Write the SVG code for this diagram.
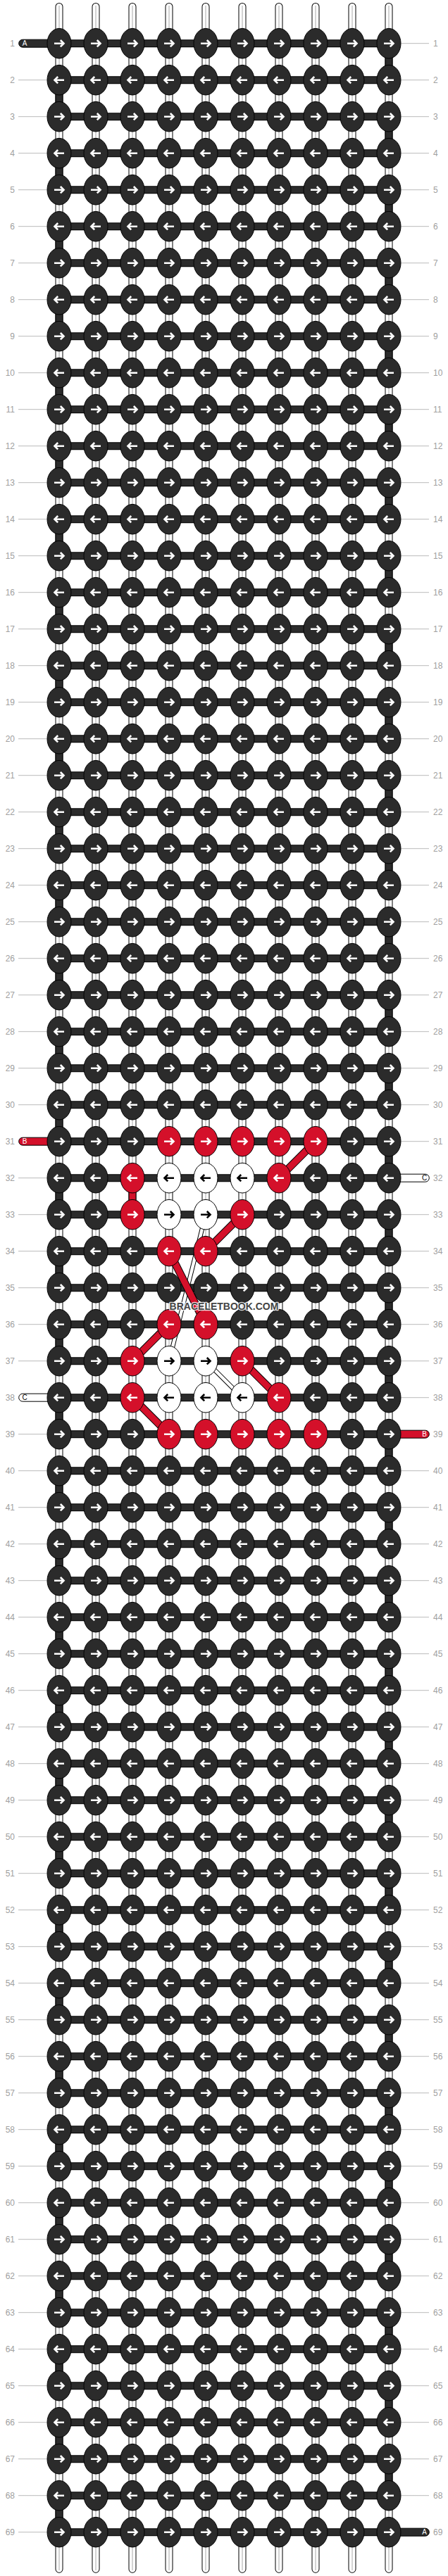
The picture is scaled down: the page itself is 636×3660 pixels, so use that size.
<svg xmlns="http://www.w3.org/2000/svg" xmlns:xlink="http://www.w3.org/1999/xlink" width="636" height="3660" viewBox="0 0 636 3660">
<style>
.kd{fill:#2b2b2b;stroke:#000;stroke-width:1}
.kr{fill:#d4102a;stroke:#000;stroke-width:1}
.kw{fill:#fff;stroke:#000;stroke-width:1}
.aw{fill:none;stroke:#fff;stroke-width:2.6}
.ab{fill:none;stroke:#000;stroke-width:2.6}
.lab{font-family:"Liberation Sans",Arial,sans-serif;font-size:12px;fill:#a0a0a0}
.ll{text-anchor:end}
.gl{fill:none;stroke:#bbb;stroke-width:1}
.tl{font-family:"Liberation Sans",Arial,sans-serif;font-size:10px;text-anchor:middle}
.wm{font-family:"Liberation Sans",Arial,sans-serif;font-size:14px;font-weight:bold;text-anchor:middle;fill:#444;stroke:#fff;stroke-opacity:.85;stroke-width:2.4;paint-order:stroke;stroke-linejoin:round}
</style>
<defs>
<g id="dR"><ellipse class="kd" rx="17" ry="21.3"/><path class="aw" d="M-7 0H6M1.8-4.7L6.5 0L1.8 4.7"/></g>
<g id="dL"><ellipse class="kd" rx="17" ry="21.3"/><path class="aw" d="M7 0H-6M-1.8-4.7L-6.5 0L-1.8 4.7"/></g>
<g id="rR"><ellipse class="kr" rx="17" ry="21.3"/><path class="aw" d="M-7 0H6M1.8-4.7L6.5 0L1.8 4.7"/></g>
<g id="rL"><ellipse class="kr" rx="17" ry="21.3"/><path class="aw" d="M7 0H-6M-1.8-4.7L-6.5 0L-1.8 4.7"/></g>
<g id="wR"><ellipse class="kw" rx="17" ry="21.3"/><path class="ab" d="M-7 0H6M1.8-4.7L6.5 0L1.8 4.7"/></g>
<g id="wL"><ellipse class="kw" rx="17" ry="21.3"/><path class="ab" d="M7 0H-6M-1.8-4.7L-6.5 0L-1.8 4.7"/></g>
<path id="vt" d="M84 9.5V3650.2M136 9.5V3650.2M188 9.5V3650.2M240 9.5V3650.2M292 9.5V3650.2M344 9.5V3650.2M396 9.5V3650.2M448 9.5V3650.2M500 9.5V3650.2M552 9.5V3650.2"/>
<path id="hb" d="M84 61.7H552M84 113.7H552M84 165.7H552M84 217.7H552M84 269.7H552M84 321.7H552M84 373.7H552M84 425.7H552M84 477.7H552M84 529.7H552M84 581.7H552M84 633.7H552M84 685.7H552M84 737.7H552M84 789.7H552M84 841.7H552M84 893.7H552M84 945.7H552M84 997.7H552M84 1049.7H552M84 1101.7H552M84 1153.7H552M84 1205.7H552M84 1257.7H552M84 1309.7H552M84 1361.7H552M84 1413.7H552M84 1465.7H552M84 1517.7H552M84 1569.7H552M84 1621.7H552M84 1673.7H552M84 1725.7H552M84 1777.7H552M84 1829.7H552M84 1881.7H552M84 1933.7H552M84 1985.7H552M84 2037.7H552M84 2089.7H552M84 2141.7H552M84 2193.7H552M84 2245.7H552M84 2297.7H552M84 2349.7H552M84 2401.7H552M84 2453.7H552M84 2505.7H552M84 2557.7H552M84 2609.7H552M84 2661.7H552M84 2713.7H552M84 2765.7H552M84 2817.7H552M84 2869.7H552M84 2921.7H552M84 2973.7H552M84 3025.7H552M84 3077.7H552M84 3129.7H552M84 3181.7H552M84 3233.7H552M84 3285.7H552M84 3337.7H552M84 3389.7H552M84 3441.7H552M84 3493.7H552M84 3545.7H552M84 3597.7H552"/>
<path id="ed" d="M552 61.7V3597.7M84 113.7V3597.7"/>
</defs>
<rect width="636" height="3660" fill="#fff"/>
<g id="labels" class="lab">
<path class="gl" d="M26 113.7H66.5M26 165.7H66.5M26 217.7H66.5M26 269.7H66.5M26 321.7H66.5M26 373.7H66.5M26 425.7H66.5M26 477.7H66.5M26 529.7H66.5M26 581.7H66.5M26 633.7H66.5M26 685.7H66.5M26 737.7H66.5M26 789.7H66.5M26 841.7H66.5M26 893.7H66.5M26 945.7H66.5M26 997.7H66.5M26 1049.7H66.5M26 1101.7H66.5M26 1153.7H66.5M26 1205.7H66.5M26 1257.7H66.5M26 1309.7H66.5M26 1361.7H66.5M26 1413.7H66.5M26 1465.7H66.5M26 1517.7H66.5M26 1569.7H66.5M26 1673.7H66.5M26 1725.7H66.5M26 1777.7H66.5M26 1829.7H66.5M26 1881.7H66.5M26 1933.7H66.5M26 2037.7H66.5M26 2089.7H66.5M26 2141.7H66.5M26 2193.7H66.5M26 2245.7H66.5M26 2297.7H66.5M26 2349.7H66.5M26 2401.7H66.5M26 2453.7H66.5M26 2505.7H66.5M26 2557.7H66.5M26 2609.7H66.5M26 2661.7H66.5M26 2713.7H66.5M26 2765.7H66.5M26 2817.7H66.5M26 2869.7H66.5M26 2921.7H66.5M26 2973.7H66.5M26 3025.7H66.5M26 3077.7H66.5M26 3129.7H66.5M26 3181.7H66.5M26 3233.7H66.5M26 3285.7H66.5M26 3337.7H66.5M26 3389.7H66.5M26 3441.7H66.5M26 3493.7H66.5M26 3545.7H66.5M26 3597.7H66.5"/>
<path class="gl" d="M569.5 61.7H609M569.5 113.7H609M569.5 165.7H609M569.5 217.7H609M569.5 269.7H609M569.5 321.7H609M569.5 373.7H609M569.5 425.7H609M569.5 477.7H609M569.5 529.7H609M569.5 581.7H609M569.5 633.7H609M569.5 685.7H609M569.5 737.7H609M569.5 789.7H609M569.5 841.7H609M569.5 893.7H609M569.5 945.7H609M569.5 997.7H609M569.5 1049.7H609M569.5 1101.7H609M569.5 1153.7H609M569.5 1205.7H609M569.5 1257.7H609M569.5 1309.7H609M569.5 1361.7H609M569.5 1413.7H609M569.5 1465.7H609M569.5 1517.7H609M569.5 1569.7H609M569.5 1621.7H609M569.5 1725.7H609M569.5 1777.7H609M569.5 1829.7H609M569.5 1881.7H609M569.5 1933.7H609M569.5 1985.7H609M569.5 2089.7H609M569.5 2141.7H609M569.5 2193.7H609M569.5 2245.7H609M569.5 2297.7H609M569.5 2349.7H609M569.5 2401.7H609M569.5 2453.7H609M569.5 2505.7H609M569.5 2557.7H609M569.5 2609.7H609M569.5 2661.7H609M569.5 2713.7H609M569.5 2765.7H609M569.5 2817.7H609M569.5 2869.7H609M569.5 2921.7H609M569.5 2973.7H609M569.5 3025.7H609M569.5 3077.7H609M569.5 3129.7H609M569.5 3181.7H609M569.5 3233.7H609M569.5 3285.7H609M569.5 3337.7H609M569.5 3389.7H609M569.5 3441.7H609M569.5 3493.7H609M569.5 3545.7H609"/>
<text class="ll" x="21" y="66">1</text><text x="615" y="66">1</text>
<text class="ll" x="21" y="118">2</text><text x="615" y="118">2</text>
<text class="ll" x="21" y="170">3</text><text x="615" y="170">3</text>
<text class="ll" x="21" y="222">4</text><text x="615" y="222">4</text>
<text class="ll" x="21" y="274">5</text><text x="615" y="274">5</text>
<text class="ll" x="21" y="326">6</text><text x="615" y="326">6</text>
<text class="ll" x="21" y="378">7</text><text x="615" y="378">7</text>
<text class="ll" x="21" y="430">8</text><text x="615" y="430">8</text>
<text class="ll" x="21" y="482">9</text><text x="615" y="482">9</text>
<text class="ll" x="21" y="534">10</text><text x="615" y="534">10</text>
<text class="ll" x="21" y="586">11</text><text x="615" y="586">11</text>
<text class="ll" x="21" y="638">12</text><text x="615" y="638">12</text>
<text class="ll" x="21" y="690">13</text><text x="615" y="690">13</text>
<text class="ll" x="21" y="742">14</text><text x="615" y="742">14</text>
<text class="ll" x="21" y="794">15</text><text x="615" y="794">15</text>
<text class="ll" x="21" y="846">16</text><text x="615" y="846">16</text>
<text class="ll" x="21" y="898">17</text><text x="615" y="898">17</text>
<text class="ll" x="21" y="950">18</text><text x="615" y="950">18</text>
<text class="ll" x="21" y="1002">19</text><text x="615" y="1002">19</text>
<text class="ll" x="21" y="1054">20</text><text x="615" y="1054">20</text>
<text class="ll" x="21" y="1106">21</text><text x="615" y="1106">21</text>
<text class="ll" x="21" y="1158">22</text><text x="615" y="1158">22</text>
<text class="ll" x="21" y="1210">23</text><text x="615" y="1210">23</text>
<text class="ll" x="21" y="1262">24</text><text x="615" y="1262">24</text>
<text class="ll" x="21" y="1314">25</text><text x="615" y="1314">25</text>
<text class="ll" x="21" y="1366">26</text><text x="615" y="1366">26</text>
<text class="ll" x="21" y="1418">27</text><text x="615" y="1418">27</text>
<text class="ll" x="21" y="1470">28</text><text x="615" y="1470">28</text>
<text class="ll" x="21" y="1522">29</text><text x="615" y="1522">29</text>
<text class="ll" x="21" y="1574">30</text><text x="615" y="1574">30</text>
<text class="ll" x="21" y="1626">31</text><text x="615" y="1626">31</text>
<text class="ll" x="21" y="1678">32</text><text x="615" y="1678">32</text>
<text class="ll" x="21" y="1730">33</text><text x="615" y="1730">33</text>
<text class="ll" x="21" y="1782">34</text><text x="615" y="1782">34</text>
<text class="ll" x="21" y="1834">35</text><text x="615" y="1834">35</text>
<text class="ll" x="21" y="1886">36</text><text x="615" y="1886">36</text>
<text class="ll" x="21" y="1938">37</text><text x="615" y="1938">37</text>
<text class="ll" x="21" y="1990">38</text><text x="615" y="1990">38</text>
<text class="ll" x="21" y="2042">39</text><text x="615" y="2042">39</text>
<text class="ll" x="21" y="2094">40</text><text x="615" y="2094">40</text>
<text class="ll" x="21" y="2146">41</text><text x="615" y="2146">41</text>
<text class="ll" x="21" y="2198">42</text><text x="615" y="2198">42</text>
<text class="ll" x="21" y="2250">43</text><text x="615" y="2250">43</text>
<text class="ll" x="21" y="2302">44</text><text x="615" y="2302">44</text>
<text class="ll" x="21" y="2354">45</text><text x="615" y="2354">45</text>
<text class="ll" x="21" y="2406">46</text><text x="615" y="2406">46</text>
<text class="ll" x="21" y="2458">47</text><text x="615" y="2458">47</text>
<text class="ll" x="21" y="2510">48</text><text x="615" y="2510">48</text>
<text class="ll" x="21" y="2562">49</text><text x="615" y="2562">49</text>
<text class="ll" x="21" y="2614">50</text><text x="615" y="2614">50</text>
<text class="ll" x="21" y="2666">51</text><text x="615" y="2666">51</text>
<text class="ll" x="21" y="2718">52</text><text x="615" y="2718">52</text>
<text class="ll" x="21" y="2770">53</text><text x="615" y="2770">53</text>
<text class="ll" x="21" y="2822">54</text><text x="615" y="2822">54</text>
<text class="ll" x="21" y="2874">55</text><text x="615" y="2874">55</text>
<text class="ll" x="21" y="2926">56</text><text x="615" y="2926">56</text>
<text class="ll" x="21" y="2978">57</text><text x="615" y="2978">57</text>
<text class="ll" x="21" y="3030">58</text><text x="615" y="3030">58</text>
<text class="ll" x="21" y="3082">59</text><text x="615" y="3082">59</text>
<text class="ll" x="21" y="3134">60</text><text x="615" y="3134">60</text>
<text class="ll" x="21" y="3186">61</text><text x="615" y="3186">61</text>
<text class="ll" x="21" y="3238">62</text><text x="615" y="3238">62</text>
<text class="ll" x="21" y="3290">63</text><text x="615" y="3290">63</text>
<text class="ll" x="21" y="3342">64</text><text x="615" y="3342">64</text>
<text class="ll" x="21" y="3394">65</text><text x="615" y="3394">65</text>
<text class="ll" x="21" y="3446">66</text><text x="615" y="3446">66</text>
<text class="ll" x="21" y="3498">67</text><text x="615" y="3498">67</text>
<text class="ll" x="21" y="3550">68</text><text x="615" y="3550">68</text>
<text class="ll" x="21" y="3602">69</text><text x="615" y="3602">69</text>
</g>
<g id="connectors">
<g id="vertical-threads" fill="none">
<use href="#vt" stroke="#000" stroke-width="11" stroke-linecap="round"/>
<use href="#vt" stroke="#fff" stroke-width="9" stroke-linecap="round"/>
<path d="M84 8V3652M136 8V3652M188 8V3652M240 8V3652M292 8V3652M344 8V3652M396 8V3652M448 8V3652M500 8V3652M552 8V3652" stroke="#a8a8a8" stroke-width="1"/>
</g>
<g id="edge-turns" fill="none">
<use href="#ed" stroke="#000" stroke-width="11" stroke-dasharray="52 52"/>
<use href="#ed" stroke="#2b2b2b" stroke-width="9" stroke-dasharray="52 52"/>
</g>
<g id="horizontal-threads" fill="none">
<use href="#hb" stroke="#000" stroke-width="11"/>
<use href="#hb" stroke="#2b2b2b" stroke-width="9"/>
</g>
<g id="thread-ends">
<g id="end-A-left"><rect x="26.7" y="56.2" width="50" height="11" rx="5.5" class="kd"/><text class="tl" x="35" y="65.3" fill="#fff">A</text></g>
<g id="end-B-left"><rect x="26.7" y="1616.2" width="50" height="11" rx="5.5" class="kr"/><text class="tl" x="35" y="1625.3" fill="#fff">B</text></g>
<g id="end-C-left"><rect x="26.7" y="1980.2" width="50" height="11" rx="5.5" class="kw"/><text class="tl" x="35" y="1989.3" fill="#000">C</text></g>
<g id="end-C-right"><rect x="559.3" y="1668.2" width="50" height="11" rx="5.5" class="kw"/><text class="tl" x="602.5" y="1677.3" fill="#000">C</text></g>
<g id="end-B-right"><rect x="559.3" y="2032.2" width="50" height="11" rx="5.5" class="kr"/><text class="tl" x="602.5" y="2041.3" fill="#fff">B</text></g>
<g id="end-A-right"><rect x="559.3" y="3592.2" width="50" height="11" rx="5.5" class="kd"/><text class="tl" x="602.5" y="3601.3" fill="#fff">A</text></g>
</g>
<g id="white-carries" fill="none">
<path d="M292 1725.7L240 1933.7M292 1933.7L344 1985.7" stroke="#000" stroke-width="6.5"/>
<path d="M292 1725.7L240 1933.7M292 1933.7L344 1985.7" stroke="#fff" stroke-width="4.5"/>
</g>
<g id="red-carries" fill="none">
<path d="M448 1621.7L396 1673.7M344 1725.7L292 1777.7M188 1673.7V1725.7M240 1777.7L292 1881.7M240 1881.7L188 1933.7M344 1933.7L396 1985.7M188 1985.7L240 2037.7" stroke="#000" stroke-width="11"/>
<path d="M448 1621.7L396 1673.7M344 1725.7L292 1777.7M188 1673.7V1725.7M240 1777.7L292 1881.7M240 1881.7L188 1933.7M344 1933.7L396 1985.7M188 1985.7L240 2037.7" stroke="#d4102a" stroke-width="9"/>
</g>
</g>
<g id="knots">
<g id="r1" transform="translate(0 61.7)"><g id="k1-1"><use href="#dR" x="84"/></g><g id="k1-2"><use href="#dR" x="136"/></g><g id="k1-3"><use href="#dR" x="188"/></g><g id="k1-4"><use href="#dR" x="240"/></g><g id="k1-5"><use href="#dR" x="292"/></g><g id="k1-6"><use href="#dR" x="344"/></g><g id="k1-7"><use href="#dR" x="396"/></g><g id="k1-8"><use href="#dR" x="448"/></g><g id="k1-9"><use href="#dR" x="500"/></g><g id="k1-10"><use href="#dR" x="552"/></g></g>
<g id="r2" transform="translate(0 113.7)"><g id="k2-1"><use href="#dL" x="84"/></g><g id="k2-2"><use href="#dL" x="136"/></g><g id="k2-3"><use href="#dL" x="188"/></g><g id="k2-4"><use href="#dL" x="240"/></g><g id="k2-5"><use href="#dL" x="292"/></g><g id="k2-6"><use href="#dL" x="344"/></g><g id="k2-7"><use href="#dL" x="396"/></g><g id="k2-8"><use href="#dL" x="448"/></g><g id="k2-9"><use href="#dL" x="500"/></g><g id="k2-10"><use href="#dL" x="552"/></g></g>
<g id="r3" transform="translate(0 165.7)"><g id="k3-1"><use href="#dR" x="84"/></g><g id="k3-2"><use href="#dR" x="136"/></g><g id="k3-3"><use href="#dR" x="188"/></g><g id="k3-4"><use href="#dR" x="240"/></g><g id="k3-5"><use href="#dR" x="292"/></g><g id="k3-6"><use href="#dR" x="344"/></g><g id="k3-7"><use href="#dR" x="396"/></g><g id="k3-8"><use href="#dR" x="448"/></g><g id="k3-9"><use href="#dR" x="500"/></g><g id="k3-10"><use href="#dR" x="552"/></g></g>
<g id="r4" transform="translate(0 217.7)"><g id="k4-1"><use href="#dL" x="84"/></g><g id="k4-2"><use href="#dL" x="136"/></g><g id="k4-3"><use href="#dL" x="188"/></g><g id="k4-4"><use href="#dL" x="240"/></g><g id="k4-5"><use href="#dL" x="292"/></g><g id="k4-6"><use href="#dL" x="344"/></g><g id="k4-7"><use href="#dL" x="396"/></g><g id="k4-8"><use href="#dL" x="448"/></g><g id="k4-9"><use href="#dL" x="500"/></g><g id="k4-10"><use href="#dL" x="552"/></g></g>
<g id="r5" transform="translate(0 269.7)"><g id="k5-1"><use href="#dR" x="84"/></g><g id="k5-2"><use href="#dR" x="136"/></g><g id="k5-3"><use href="#dR" x="188"/></g><g id="k5-4"><use href="#dR" x="240"/></g><g id="k5-5"><use href="#dR" x="292"/></g><g id="k5-6"><use href="#dR" x="344"/></g><g id="k5-7"><use href="#dR" x="396"/></g><g id="k5-8"><use href="#dR" x="448"/></g><g id="k5-9"><use href="#dR" x="500"/></g><g id="k5-10"><use href="#dR" x="552"/></g></g>
<g id="r6" transform="translate(0 321.7)"><g id="k6-1"><use href="#dL" x="84"/></g><g id="k6-2"><use href="#dL" x="136"/></g><g id="k6-3"><use href="#dL" x="188"/></g><g id="k6-4"><use href="#dL" x="240"/></g><g id="k6-5"><use href="#dL" x="292"/></g><g id="k6-6"><use href="#dL" x="344"/></g><g id="k6-7"><use href="#dL" x="396"/></g><g id="k6-8"><use href="#dL" x="448"/></g><g id="k6-9"><use href="#dL" x="500"/></g><g id="k6-10"><use href="#dL" x="552"/></g></g>
<g id="r7" transform="translate(0 373.7)"><g id="k7-1"><use href="#dR" x="84"/></g><g id="k7-2"><use href="#dR" x="136"/></g><g id="k7-3"><use href="#dR" x="188"/></g><g id="k7-4"><use href="#dR" x="240"/></g><g id="k7-5"><use href="#dR" x="292"/></g><g id="k7-6"><use href="#dR" x="344"/></g><g id="k7-7"><use href="#dR" x="396"/></g><g id="k7-8"><use href="#dR" x="448"/></g><g id="k7-9"><use href="#dR" x="500"/></g><g id="k7-10"><use href="#dR" x="552"/></g></g>
<g id="r8" transform="translate(0 425.7)"><g id="k8-1"><use href="#dL" x="84"/></g><g id="k8-2"><use href="#dL" x="136"/></g><g id="k8-3"><use href="#dL" x="188"/></g><g id="k8-4"><use href="#dL" x="240"/></g><g id="k8-5"><use href="#dL" x="292"/></g><g id="k8-6"><use href="#dL" x="344"/></g><g id="k8-7"><use href="#dL" x="396"/></g><g id="k8-8"><use href="#dL" x="448"/></g><g id="k8-9"><use href="#dL" x="500"/></g><g id="k8-10"><use href="#dL" x="552"/></g></g>
<g id="r9" transform="translate(0 477.7)"><g id="k9-1"><use href="#dR" x="84"/></g><g id="k9-2"><use href="#dR" x="136"/></g><g id="k9-3"><use href="#dR" x="188"/></g><g id="k9-4"><use href="#dR" x="240"/></g><g id="k9-5"><use href="#dR" x="292"/></g><g id="k9-6"><use href="#dR" x="344"/></g><g id="k9-7"><use href="#dR" x="396"/></g><g id="k9-8"><use href="#dR" x="448"/></g><g id="k9-9"><use href="#dR" x="500"/></g><g id="k9-10"><use href="#dR" x="552"/></g></g>
<g id="r10" transform="translate(0 529.7)"><g id="k10-1"><use href="#dL" x="84"/></g><g id="k10-2"><use href="#dL" x="136"/></g><g id="k10-3"><use href="#dL" x="188"/></g><g id="k10-4"><use href="#dL" x="240"/></g><g id="k10-5"><use href="#dL" x="292"/></g><g id="k10-6"><use href="#dL" x="344"/></g><g id="k10-7"><use href="#dL" x="396"/></g><g id="k10-8"><use href="#dL" x="448"/></g><g id="k10-9"><use href="#dL" x="500"/></g><g id="k10-10"><use href="#dL" x="552"/></g></g>
<g id="r11" transform="translate(0 581.7)"><g id="k11-1"><use href="#dR" x="84"/></g><g id="k11-2"><use href="#dR" x="136"/></g><g id="k11-3"><use href="#dR" x="188"/></g><g id="k11-4"><use href="#dR" x="240"/></g><g id="k11-5"><use href="#dR" x="292"/></g><g id="k11-6"><use href="#dR" x="344"/></g><g id="k11-7"><use href="#dR" x="396"/></g><g id="k11-8"><use href="#dR" x="448"/></g><g id="k11-9"><use href="#dR" x="500"/></g><g id="k11-10"><use href="#dR" x="552"/></g></g>
<g id="r12" transform="translate(0 633.7)"><g id="k12-1"><use href="#dL" x="84"/></g><g id="k12-2"><use href="#dL" x="136"/></g><g id="k12-3"><use href="#dL" x="188"/></g><g id="k12-4"><use href="#dL" x="240"/></g><g id="k12-5"><use href="#dL" x="292"/></g><g id="k12-6"><use href="#dL" x="344"/></g><g id="k12-7"><use href="#dL" x="396"/></g><g id="k12-8"><use href="#dL" x="448"/></g><g id="k12-9"><use href="#dL" x="500"/></g><g id="k12-10"><use href="#dL" x="552"/></g></g>
<g id="r13" transform="translate(0 685.7)"><g id="k13-1"><use href="#dR" x="84"/></g><g id="k13-2"><use href="#dR" x="136"/></g><g id="k13-3"><use href="#dR" x="188"/></g><g id="k13-4"><use href="#dR" x="240"/></g><g id="k13-5"><use href="#dR" x="292"/></g><g id="k13-6"><use href="#dR" x="344"/></g><g id="k13-7"><use href="#dR" x="396"/></g><g id="k13-8"><use href="#dR" x="448"/></g><g id="k13-9"><use href="#dR" x="500"/></g><g id="k13-10"><use href="#dR" x="552"/></g></g>
<g id="r14" transform="translate(0 737.7)"><g id="k14-1"><use href="#dL" x="84"/></g><g id="k14-2"><use href="#dL" x="136"/></g><g id="k14-3"><use href="#dL" x="188"/></g><g id="k14-4"><use href="#dL" x="240"/></g><g id="k14-5"><use href="#dL" x="292"/></g><g id="k14-6"><use href="#dL" x="344"/></g><g id="k14-7"><use href="#dL" x="396"/></g><g id="k14-8"><use href="#dL" x="448"/></g><g id="k14-9"><use href="#dL" x="500"/></g><g id="k14-10"><use href="#dL" x="552"/></g></g>
<g id="r15" transform="translate(0 789.7)"><g id="k15-1"><use href="#dR" x="84"/></g><g id="k15-2"><use href="#dR" x="136"/></g><g id="k15-3"><use href="#dR" x="188"/></g><g id="k15-4"><use href="#dR" x="240"/></g><g id="k15-5"><use href="#dR" x="292"/></g><g id="k15-6"><use href="#dR" x="344"/></g><g id="k15-7"><use href="#dR" x="396"/></g><g id="k15-8"><use href="#dR" x="448"/></g><g id="k15-9"><use href="#dR" x="500"/></g><g id="k15-10"><use href="#dR" x="552"/></g></g>
<g id="r16" transform="translate(0 841.7)"><g id="k16-1"><use href="#dL" x="84"/></g><g id="k16-2"><use href="#dL" x="136"/></g><g id="k16-3"><use href="#dL" x="188"/></g><g id="k16-4"><use href="#dL" x="240"/></g><g id="k16-5"><use href="#dL" x="292"/></g><g id="k16-6"><use href="#dL" x="344"/></g><g id="k16-7"><use href="#dL" x="396"/></g><g id="k16-8"><use href="#dL" x="448"/></g><g id="k16-9"><use href="#dL" x="500"/></g><g id="k16-10"><use href="#dL" x="552"/></g></g>
<g id="r17" transform="translate(0 893.7)"><g id="k17-1"><use href="#dR" x="84"/></g><g id="k17-2"><use href="#dR" x="136"/></g><g id="k17-3"><use href="#dR" x="188"/></g><g id="k17-4"><use href="#dR" x="240"/></g><g id="k17-5"><use href="#dR" x="292"/></g><g id="k17-6"><use href="#dR" x="344"/></g><g id="k17-7"><use href="#dR" x="396"/></g><g id="k17-8"><use href="#dR" x="448"/></g><g id="k17-9"><use href="#dR" x="500"/></g><g id="k17-10"><use href="#dR" x="552"/></g></g>
<g id="r18" transform="translate(0 945.7)"><g id="k18-1"><use href="#dL" x="84"/></g><g id="k18-2"><use href="#dL" x="136"/></g><g id="k18-3"><use href="#dL" x="188"/></g><g id="k18-4"><use href="#dL" x="240"/></g><g id="k18-5"><use href="#dL" x="292"/></g><g id="k18-6"><use href="#dL" x="344"/></g><g id="k18-7"><use href="#dL" x="396"/></g><g id="k18-8"><use href="#dL" x="448"/></g><g id="k18-9"><use href="#dL" x="500"/></g><g id="k18-10"><use href="#dL" x="552"/></g></g>
<g id="r19" transform="translate(0 997.7)"><g id="k19-1"><use href="#dR" x="84"/></g><g id="k19-2"><use href="#dR" x="136"/></g><g id="k19-3"><use href="#dR" x="188"/></g><g id="k19-4"><use href="#dR" x="240"/></g><g id="k19-5"><use href="#dR" x="292"/></g><g id="k19-6"><use href="#dR" x="344"/></g><g id="k19-7"><use href="#dR" x="396"/></g><g id="k19-8"><use href="#dR" x="448"/></g><g id="k19-9"><use href="#dR" x="500"/></g><g id="k19-10"><use href="#dR" x="552"/></g></g>
<g id="r20" transform="translate(0 1049.7)"><g id="k20-1"><use href="#dL" x="84"/></g><g id="k20-2"><use href="#dL" x="136"/></g><g id="k20-3"><use href="#dL" x="188"/></g><g id="k20-4"><use href="#dL" x="240"/></g><g id="k20-5"><use href="#dL" x="292"/></g><g id="k20-6"><use href="#dL" x="344"/></g><g id="k20-7"><use href="#dL" x="396"/></g><g id="k20-8"><use href="#dL" x="448"/></g><g id="k20-9"><use href="#dL" x="500"/></g><g id="k20-10"><use href="#dL" x="552"/></g></g>
<g id="r21" transform="translate(0 1101.7)"><g id="k21-1"><use href="#dR" x="84"/></g><g id="k21-2"><use href="#dR" x="136"/></g><g id="k21-3"><use href="#dR" x="188"/></g><g id="k21-4"><use href="#dR" x="240"/></g><g id="k21-5"><use href="#dR" x="292"/></g><g id="k21-6"><use href="#dR" x="344"/></g><g id="k21-7"><use href="#dR" x="396"/></g><g id="k21-8"><use href="#dR" x="448"/></g><g id="k21-9"><use href="#dR" x="500"/></g><g id="k21-10"><use href="#dR" x="552"/></g></g>
<g id="r22" transform="translate(0 1153.7)"><g id="k22-1"><use href="#dL" x="84"/></g><g id="k22-2"><use href="#dL" x="136"/></g><g id="k22-3"><use href="#dL" x="188"/></g><g id="k22-4"><use href="#dL" x="240"/></g><g id="k22-5"><use href="#dL" x="292"/></g><g id="k22-6"><use href="#dL" x="344"/></g><g id="k22-7"><use href="#dL" x="396"/></g><g id="k22-8"><use href="#dL" x="448"/></g><g id="k22-9"><use href="#dL" x="500"/></g><g id="k22-10"><use href="#dL" x="552"/></g></g>
<g id="r23" transform="translate(0 1205.7)"><g id="k23-1"><use href="#dR" x="84"/></g><g id="k23-2"><use href="#dR" x="136"/></g><g id="k23-3"><use href="#dR" x="188"/></g><g id="k23-4"><use href="#dR" x="240"/></g><g id="k23-5"><use href="#dR" x="292"/></g><g id="k23-6"><use href="#dR" x="344"/></g><g id="k23-7"><use href="#dR" x="396"/></g><g id="k23-8"><use href="#dR" x="448"/></g><g id="k23-9"><use href="#dR" x="500"/></g><g id="k23-10"><use href="#dR" x="552"/></g></g>
<g id="r24" transform="translate(0 1257.7)"><g id="k24-1"><use href="#dL" x="84"/></g><g id="k24-2"><use href="#dL" x="136"/></g><g id="k24-3"><use href="#dL" x="188"/></g><g id="k24-4"><use href="#dL" x="240"/></g><g id="k24-5"><use href="#dL" x="292"/></g><g id="k24-6"><use href="#dL" x="344"/></g><g id="k24-7"><use href="#dL" x="396"/></g><g id="k24-8"><use href="#dL" x="448"/></g><g id="k24-9"><use href="#dL" x="500"/></g><g id="k24-10"><use href="#dL" x="552"/></g></g>
<g id="r25" transform="translate(0 1309.7)"><g id="k25-1"><use href="#dR" x="84"/></g><g id="k25-2"><use href="#dR" x="136"/></g><g id="k25-3"><use href="#dR" x="188"/></g><g id="k25-4"><use href="#dR" x="240"/></g><g id="k25-5"><use href="#dR" x="292"/></g><g id="k25-6"><use href="#dR" x="344"/></g><g id="k25-7"><use href="#dR" x="396"/></g><g id="k25-8"><use href="#dR" x="448"/></g><g id="k25-9"><use href="#dR" x="500"/></g><g id="k25-10"><use href="#dR" x="552"/></g></g>
<g id="r26" transform="translate(0 1361.7)"><g id="k26-1"><use href="#dL" x="84"/></g><g id="k26-2"><use href="#dL" x="136"/></g><g id="k26-3"><use href="#dL" x="188"/></g><g id="k26-4"><use href="#dL" x="240"/></g><g id="k26-5"><use href="#dL" x="292"/></g><g id="k26-6"><use href="#dL" x="344"/></g><g id="k26-7"><use href="#dL" x="396"/></g><g id="k26-8"><use href="#dL" x="448"/></g><g id="k26-9"><use href="#dL" x="500"/></g><g id="k26-10"><use href="#dL" x="552"/></g></g>
<g id="r27" transform="translate(0 1413.7)"><g id="k27-1"><use href="#dR" x="84"/></g><g id="k27-2"><use href="#dR" x="136"/></g><g id="k27-3"><use href="#dR" x="188"/></g><g id="k27-4"><use href="#dR" x="240"/></g><g id="k27-5"><use href="#dR" x="292"/></g><g id="k27-6"><use href="#dR" x="344"/></g><g id="k27-7"><use href="#dR" x="396"/></g><g id="k27-8"><use href="#dR" x="448"/></g><g id="k27-9"><use href="#dR" x="500"/></g><g id="k27-10"><use href="#dR" x="552"/></g></g>
<g id="r28" transform="translate(0 1465.7)"><g id="k28-1"><use href="#dL" x="84"/></g><g id="k28-2"><use href="#dL" x="136"/></g><g id="k28-3"><use href="#dL" x="188"/></g><g id="k28-4"><use href="#dL" x="240"/></g><g id="k28-5"><use href="#dL" x="292"/></g><g id="k28-6"><use href="#dL" x="344"/></g><g id="k28-7"><use href="#dL" x="396"/></g><g id="k28-8"><use href="#dL" x="448"/></g><g id="k28-9"><use href="#dL" x="500"/></g><g id="k28-10"><use href="#dL" x="552"/></g></g>
<g id="r29" transform="translate(0 1517.7)"><g id="k29-1"><use href="#dR" x="84"/></g><g id="k29-2"><use href="#dR" x="136"/></g><g id="k29-3"><use href="#dR" x="188"/></g><g id="k29-4"><use href="#dR" x="240"/></g><g id="k29-5"><use href="#dR" x="292"/></g><g id="k29-6"><use href="#dR" x="344"/></g><g id="k29-7"><use href="#dR" x="396"/></g><g id="k29-8"><use href="#dR" x="448"/></g><g id="k29-9"><use href="#dR" x="500"/></g><g id="k29-10"><use href="#dR" x="552"/></g></g>
<g id="r30" transform="translate(0 1569.7)"><g id="k30-1"><use href="#dL" x="84"/></g><g id="k30-2"><use href="#dL" x="136"/></g><g id="k30-3"><use href="#dL" x="188"/></g><g id="k30-4"><use href="#dL" x="240"/></g><g id="k30-5"><use href="#dL" x="292"/></g><g id="k30-6"><use href="#dL" x="344"/></g><g id="k30-7"><use href="#dL" x="396"/></g><g id="k30-8"><use href="#dL" x="448"/></g><g id="k30-9"><use href="#dL" x="500"/></g><g id="k30-10"><use href="#dL" x="552"/></g></g>
<g id="r31" transform="translate(0 1621.7)"><g id="k31-1"><use href="#dR" x="84"/></g><g id="k31-2"><use href="#dR" x="136"/></g><g id="k31-3"><use href="#dR" x="188"/></g><g id="k31-4"><use href="#rR" x="240"/></g><g id="k31-5"><use href="#rR" x="292"/></g><g id="k31-6"><use href="#rR" x="344"/></g><g id="k31-7"><use href="#rR" x="396"/></g><g id="k31-8"><use href="#rR" x="448"/></g><g id="k31-9"><use href="#dR" x="500"/></g><g id="k31-10"><use href="#dR" x="552"/></g></g>
<g id="r32" transform="translate(0 1673.7)"><g id="k32-1"><use href="#dL" x="84"/></g><g id="k32-2"><use href="#dL" x="136"/></g><g id="k32-3"><use href="#rL" x="188"/></g><g id="k32-4"><use href="#wL" x="240"/></g><g id="k32-5"><use href="#wL" x="292"/></g><g id="k32-6"><use href="#wL" x="344"/></g><g id="k32-7"><use href="#rL" x="396"/></g><g id="k32-8"><use href="#dL" x="448"/></g><g id="k32-9"><use href="#dL" x="500"/></g><g id="k32-10"><use href="#dL" x="552"/></g></g>
<g id="r33" transform="translate(0 1725.7)"><g id="k33-1"><use href="#dR" x="84"/></g><g id="k33-2"><use href="#dR" x="136"/></g><g id="k33-3"><use href="#rR" x="188"/></g><g id="k33-4"><use href="#wR" x="240"/></g><g id="k33-5"><use href="#wR" x="292"/></g><g id="k33-6"><use href="#rR" x="344"/></g><g id="k33-7"><use href="#dR" x="396"/></g><g id="k33-8"><use href="#dR" x="448"/></g><g id="k33-9"><use href="#dR" x="500"/></g><g id="k33-10"><use href="#dR" x="552"/></g></g>
<g id="r34" transform="translate(0 1777.7)"><g id="k34-1"><use href="#dL" x="84"/></g><g id="k34-2"><use href="#dL" x="136"/></g><g id="k34-3"><use href="#dL" x="188"/></g><g id="k34-4"><use href="#rL" x="240"/></g><g id="k34-5"><use href="#rL" x="292"/></g><g id="k34-6"><use href="#dL" x="344"/></g><g id="k34-7"><use href="#dL" x="396"/></g><g id="k34-8"><use href="#dL" x="448"/></g><g id="k34-9"><use href="#dL" x="500"/></g><g id="k34-10"><use href="#dL" x="552"/></g></g>
<g id="r35" transform="translate(0 1829.7)"><g id="k35-1"><use href="#dR" x="84"/></g><g id="k35-2"><use href="#dR" x="136"/></g><g id="k35-3"><use href="#dR" x="188"/></g><g id="k35-4"><use href="#dR" x="240"/></g><g id="k35-5"><use href="#dR" x="292"/></g><g id="k35-6"><use href="#dR" x="344"/></g><g id="k35-7"><use href="#dR" x="396"/></g><g id="k35-8"><use href="#dR" x="448"/></g><g id="k35-9"><use href="#dR" x="500"/></g><g id="k35-10"><use href="#dR" x="552"/></g></g>
<g id="r36" transform="translate(0 1881.7)"><g id="k36-1"><use href="#dL" x="84"/></g><g id="k36-2"><use href="#dL" x="136"/></g><g id="k36-3"><use href="#dL" x="188"/></g><g id="k36-4"><use href="#rL" x="240"/></g><g id="k36-5"><use href="#rL" x="292"/></g><g id="k36-6"><use href="#dL" x="344"/></g><g id="k36-7"><use href="#dL" x="396"/></g><g id="k36-8"><use href="#dL" x="448"/></g><g id="k36-9"><use href="#dL" x="500"/></g><g id="k36-10"><use href="#dL" x="552"/></g></g>
<g id="r37" transform="translate(0 1933.7)"><g id="k37-1"><use href="#dR" x="84"/></g><g id="k37-2"><use href="#dR" x="136"/></g><g id="k37-3"><use href="#rR" x="188"/></g><g id="k37-4"><use href="#wR" x="240"/></g><g id="k37-5"><use href="#wR" x="292"/></g><g id="k37-6"><use href="#rR" x="344"/></g><g id="k37-7"><use href="#dR" x="396"/></g><g id="k37-8"><use href="#dR" x="448"/></g><g id="k37-9"><use href="#dR" x="500"/></g><g id="k37-10"><use href="#dR" x="552"/></g></g>
<g id="r38" transform="translate(0 1985.7)"><g id="k38-1"><use href="#dL" x="84"/></g><g id="k38-2"><use href="#dL" x="136"/></g><g id="k38-3"><use href="#rL" x="188"/></g><g id="k38-4"><use href="#wL" x="240"/></g><g id="k38-5"><use href="#wL" x="292"/></g><g id="k38-6"><use href="#wL" x="344"/></g><g id="k38-7"><use href="#rL" x="396"/></g><g id="k38-8"><use href="#dL" x="448"/></g><g id="k38-9"><use href="#dL" x="500"/></g><g id="k38-10"><use href="#dL" x="552"/></g></g>
<g id="r39" transform="translate(0 2037.7)"><g id="k39-1"><use href="#dR" x="84"/></g><g id="k39-2"><use href="#dR" x="136"/></g><g id="k39-3"><use href="#dR" x="188"/></g><g id="k39-4"><use href="#rR" x="240"/></g><g id="k39-5"><use href="#rR" x="292"/></g><g id="k39-6"><use href="#rR" x="344"/></g><g id="k39-7"><use href="#rR" x="396"/></g><g id="k39-8"><use href="#rR" x="448"/></g><g id="k39-9"><use href="#dR" x="500"/></g><g id="k39-10"><use href="#dR" x="552"/></g></g>
<g id="r40" transform="translate(0 2089.7)"><g id="k40-1"><use href="#dL" x="84"/></g><g id="k40-2"><use href="#dL" x="136"/></g><g id="k40-3"><use href="#dL" x="188"/></g><g id="k40-4"><use href="#dL" x="240"/></g><g id="k40-5"><use href="#dL" x="292"/></g><g id="k40-6"><use href="#dL" x="344"/></g><g id="k40-7"><use href="#dL" x="396"/></g><g id="k40-8"><use href="#dL" x="448"/></g><g id="k40-9"><use href="#dL" x="500"/></g><g id="k40-10"><use href="#dL" x="552"/></g></g>
<g id="r41" transform="translate(0 2141.7)"><g id="k41-1"><use href="#dR" x="84"/></g><g id="k41-2"><use href="#dR" x="136"/></g><g id="k41-3"><use href="#dR" x="188"/></g><g id="k41-4"><use href="#dR" x="240"/></g><g id="k41-5"><use href="#dR" x="292"/></g><g id="k41-6"><use href="#dR" x="344"/></g><g id="k41-7"><use href="#dR" x="396"/></g><g id="k41-8"><use href="#dR" x="448"/></g><g id="k41-9"><use href="#dR" x="500"/></g><g id="k41-10"><use href="#dR" x="552"/></g></g>
<g id="r42" transform="translate(0 2193.7)"><g id="k42-1"><use href="#dL" x="84"/></g><g id="k42-2"><use href="#dL" x="136"/></g><g id="k42-3"><use href="#dL" x="188"/></g><g id="k42-4"><use href="#dL" x="240"/></g><g id="k42-5"><use href="#dL" x="292"/></g><g id="k42-6"><use href="#dL" x="344"/></g><g id="k42-7"><use href="#dL" x="396"/></g><g id="k42-8"><use href="#dL" x="448"/></g><g id="k42-9"><use href="#dL" x="500"/></g><g id="k42-10"><use href="#dL" x="552"/></g></g>
<g id="r43" transform="translate(0 2245.7)"><g id="k43-1"><use href="#dR" x="84"/></g><g id="k43-2"><use href="#dR" x="136"/></g><g id="k43-3"><use href="#dR" x="188"/></g><g id="k43-4"><use href="#dR" x="240"/></g><g id="k43-5"><use href="#dR" x="292"/></g><g id="k43-6"><use href="#dR" x="344"/></g><g id="k43-7"><use href="#dR" x="396"/></g><g id="k43-8"><use href="#dR" x="448"/></g><g id="k43-9"><use href="#dR" x="500"/></g><g id="k43-10"><use href="#dR" x="552"/></g></g>
<g id="r44" transform="translate(0 2297.7)"><g id="k44-1"><use href="#dL" x="84"/></g><g id="k44-2"><use href="#dL" x="136"/></g><g id="k44-3"><use href="#dL" x="188"/></g><g id="k44-4"><use href="#dL" x="240"/></g><g id="k44-5"><use href="#dL" x="292"/></g><g id="k44-6"><use href="#dL" x="344"/></g><g id="k44-7"><use href="#dL" x="396"/></g><g id="k44-8"><use href="#dL" x="448"/></g><g id="k44-9"><use href="#dL" x="500"/></g><g id="k44-10"><use href="#dL" x="552"/></g></g>
<g id="r45" transform="translate(0 2349.7)"><g id="k45-1"><use href="#dR" x="84"/></g><g id="k45-2"><use href="#dR" x="136"/></g><g id="k45-3"><use href="#dR" x="188"/></g><g id="k45-4"><use href="#dR" x="240"/></g><g id="k45-5"><use href="#dR" x="292"/></g><g id="k45-6"><use href="#dR" x="344"/></g><g id="k45-7"><use href="#dR" x="396"/></g><g id="k45-8"><use href="#dR" x="448"/></g><g id="k45-9"><use href="#dR" x="500"/></g><g id="k45-10"><use href="#dR" x="552"/></g></g>
<g id="r46" transform="translate(0 2401.7)"><g id="k46-1"><use href="#dL" x="84"/></g><g id="k46-2"><use href="#dL" x="136"/></g><g id="k46-3"><use href="#dL" x="188"/></g><g id="k46-4"><use href="#dL" x="240"/></g><g id="k46-5"><use href="#dL" x="292"/></g><g id="k46-6"><use href="#dL" x="344"/></g><g id="k46-7"><use href="#dL" x="396"/></g><g id="k46-8"><use href="#dL" x="448"/></g><g id="k46-9"><use href="#dL" x="500"/></g><g id="k46-10"><use href="#dL" x="552"/></g></g>
<g id="r47" transform="translate(0 2453.7)"><g id="k47-1"><use href="#dR" x="84"/></g><g id="k47-2"><use href="#dR" x="136"/></g><g id="k47-3"><use href="#dR" x="188"/></g><g id="k47-4"><use href="#dR" x="240"/></g><g id="k47-5"><use href="#dR" x="292"/></g><g id="k47-6"><use href="#dR" x="344"/></g><g id="k47-7"><use href="#dR" x="396"/></g><g id="k47-8"><use href="#dR" x="448"/></g><g id="k47-9"><use href="#dR" x="500"/></g><g id="k47-10"><use href="#dR" x="552"/></g></g>
<g id="r48" transform="translate(0 2505.7)"><g id="k48-1"><use href="#dL" x="84"/></g><g id="k48-2"><use href="#dL" x="136"/></g><g id="k48-3"><use href="#dL" x="188"/></g><g id="k48-4"><use href="#dL" x="240"/></g><g id="k48-5"><use href="#dL" x="292"/></g><g id="k48-6"><use href="#dL" x="344"/></g><g id="k48-7"><use href="#dL" x="396"/></g><g id="k48-8"><use href="#dL" x="448"/></g><g id="k48-9"><use href="#dL" x="500"/></g><g id="k48-10"><use href="#dL" x="552"/></g></g>
<g id="r49" transform="translate(0 2557.7)"><g id="k49-1"><use href="#dR" x="84"/></g><g id="k49-2"><use href="#dR" x="136"/></g><g id="k49-3"><use href="#dR" x="188"/></g><g id="k49-4"><use href="#dR" x="240"/></g><g id="k49-5"><use href="#dR" x="292"/></g><g id="k49-6"><use href="#dR" x="344"/></g><g id="k49-7"><use href="#dR" x="396"/></g><g id="k49-8"><use href="#dR" x="448"/></g><g id="k49-9"><use href="#dR" x="500"/></g><g id="k49-10"><use href="#dR" x="552"/></g></g>
<g id="r50" transform="translate(0 2609.7)"><g id="k50-1"><use href="#dL" x="84"/></g><g id="k50-2"><use href="#dL" x="136"/></g><g id="k50-3"><use href="#dL" x="188"/></g><g id="k50-4"><use href="#dL" x="240"/></g><g id="k50-5"><use href="#dL" x="292"/></g><g id="k50-6"><use href="#dL" x="344"/></g><g id="k50-7"><use href="#dL" x="396"/></g><g id="k50-8"><use href="#dL" x="448"/></g><g id="k50-9"><use href="#dL" x="500"/></g><g id="k50-10"><use href="#dL" x="552"/></g></g>
<g id="r51" transform="translate(0 2661.7)"><g id="k51-1"><use href="#dR" x="84"/></g><g id="k51-2"><use href="#dR" x="136"/></g><g id="k51-3"><use href="#dR" x="188"/></g><g id="k51-4"><use href="#dR" x="240"/></g><g id="k51-5"><use href="#dR" x="292"/></g><g id="k51-6"><use href="#dR" x="344"/></g><g id="k51-7"><use href="#dR" x="396"/></g><g id="k51-8"><use href="#dR" x="448"/></g><g id="k51-9"><use href="#dR" x="500"/></g><g id="k51-10"><use href="#dR" x="552"/></g></g>
<g id="r52" transform="translate(0 2713.7)"><g id="k52-1"><use href="#dL" x="84"/></g><g id="k52-2"><use href="#dL" x="136"/></g><g id="k52-3"><use href="#dL" x="188"/></g><g id="k52-4"><use href="#dL" x="240"/></g><g id="k52-5"><use href="#dL" x="292"/></g><g id="k52-6"><use href="#dL" x="344"/></g><g id="k52-7"><use href="#dL" x="396"/></g><g id="k52-8"><use href="#dL" x="448"/></g><g id="k52-9"><use href="#dL" x="500"/></g><g id="k52-10"><use href="#dL" x="552"/></g></g>
<g id="r53" transform="translate(0 2765.7)"><g id="k53-1"><use href="#dR" x="84"/></g><g id="k53-2"><use href="#dR" x="136"/></g><g id="k53-3"><use href="#dR" x="188"/></g><g id="k53-4"><use href="#dR" x="240"/></g><g id="k53-5"><use href="#dR" x="292"/></g><g id="k53-6"><use href="#dR" x="344"/></g><g id="k53-7"><use href="#dR" x="396"/></g><g id="k53-8"><use href="#dR" x="448"/></g><g id="k53-9"><use href="#dR" x="500"/></g><g id="k53-10"><use href="#dR" x="552"/></g></g>
<g id="r54" transform="translate(0 2817.7)"><g id="k54-1"><use href="#dL" x="84"/></g><g id="k54-2"><use href="#dL" x="136"/></g><g id="k54-3"><use href="#dL" x="188"/></g><g id="k54-4"><use href="#dL" x="240"/></g><g id="k54-5"><use href="#dL" x="292"/></g><g id="k54-6"><use href="#dL" x="344"/></g><g id="k54-7"><use href="#dL" x="396"/></g><g id="k54-8"><use href="#dL" x="448"/></g><g id="k54-9"><use href="#dL" x="500"/></g><g id="k54-10"><use href="#dL" x="552"/></g></g>
<g id="r55" transform="translate(0 2869.7)"><g id="k55-1"><use href="#dR" x="84"/></g><g id="k55-2"><use href="#dR" x="136"/></g><g id="k55-3"><use href="#dR" x="188"/></g><g id="k55-4"><use href="#dR" x="240"/></g><g id="k55-5"><use href="#dR" x="292"/></g><g id="k55-6"><use href="#dR" x="344"/></g><g id="k55-7"><use href="#dR" x="396"/></g><g id="k55-8"><use href="#dR" x="448"/></g><g id="k55-9"><use href="#dR" x="500"/></g><g id="k55-10"><use href="#dR" x="552"/></g></g>
<g id="r56" transform="translate(0 2921.7)"><g id="k56-1"><use href="#dL" x="84"/></g><g id="k56-2"><use href="#dL" x="136"/></g><g id="k56-3"><use href="#dL" x="188"/></g><g id="k56-4"><use href="#dL" x="240"/></g><g id="k56-5"><use href="#dL" x="292"/></g><g id="k56-6"><use href="#dL" x="344"/></g><g id="k56-7"><use href="#dL" x="396"/></g><g id="k56-8"><use href="#dL" x="448"/></g><g id="k56-9"><use href="#dL" x="500"/></g><g id="k56-10"><use href="#dL" x="552"/></g></g>
<g id="r57" transform="translate(0 2973.7)"><g id="k57-1"><use href="#dR" x="84"/></g><g id="k57-2"><use href="#dR" x="136"/></g><g id="k57-3"><use href="#dR" x="188"/></g><g id="k57-4"><use href="#dR" x="240"/></g><g id="k57-5"><use href="#dR" x="292"/></g><g id="k57-6"><use href="#dR" x="344"/></g><g id="k57-7"><use href="#dR" x="396"/></g><g id="k57-8"><use href="#dR" x="448"/></g><g id="k57-9"><use href="#dR" x="500"/></g><g id="k57-10"><use href="#dR" x="552"/></g></g>
<g id="r58" transform="translate(0 3025.7)"><g id="k58-1"><use href="#dL" x="84"/></g><g id="k58-2"><use href="#dL" x="136"/></g><g id="k58-3"><use href="#dL" x="188"/></g><g id="k58-4"><use href="#dL" x="240"/></g><g id="k58-5"><use href="#dL" x="292"/></g><g id="k58-6"><use href="#dL" x="344"/></g><g id="k58-7"><use href="#dL" x="396"/></g><g id="k58-8"><use href="#dL" x="448"/></g><g id="k58-9"><use href="#dL" x="500"/></g><g id="k58-10"><use href="#dL" x="552"/></g></g>
<g id="r59" transform="translate(0 3077.7)"><g id="k59-1"><use href="#dR" x="84"/></g><g id="k59-2"><use href="#dR" x="136"/></g><g id="k59-3"><use href="#dR" x="188"/></g><g id="k59-4"><use href="#dR" x="240"/></g><g id="k59-5"><use href="#dR" x="292"/></g><g id="k59-6"><use href="#dR" x="344"/></g><g id="k59-7"><use href="#dR" x="396"/></g><g id="k59-8"><use href="#dR" x="448"/></g><g id="k59-9"><use href="#dR" x="500"/></g><g id="k59-10"><use href="#dR" x="552"/></g></g>
<g id="r60" transform="translate(0 3129.7)"><g id="k60-1"><use href="#dL" x="84"/></g><g id="k60-2"><use href="#dL" x="136"/></g><g id="k60-3"><use href="#dL" x="188"/></g><g id="k60-4"><use href="#dL" x="240"/></g><g id="k60-5"><use href="#dL" x="292"/></g><g id="k60-6"><use href="#dL" x="344"/></g><g id="k60-7"><use href="#dL" x="396"/></g><g id="k60-8"><use href="#dL" x="448"/></g><g id="k60-9"><use href="#dL" x="500"/></g><g id="k60-10"><use href="#dL" x="552"/></g></g>
<g id="r61" transform="translate(0 3181.7)"><g id="k61-1"><use href="#dR" x="84"/></g><g id="k61-2"><use href="#dR" x="136"/></g><g id="k61-3"><use href="#dR" x="188"/></g><g id="k61-4"><use href="#dR" x="240"/></g><g id="k61-5"><use href="#dR" x="292"/></g><g id="k61-6"><use href="#dR" x="344"/></g><g id="k61-7"><use href="#dR" x="396"/></g><g id="k61-8"><use href="#dR" x="448"/></g><g id="k61-9"><use href="#dR" x="500"/></g><g id="k61-10"><use href="#dR" x="552"/></g></g>
<g id="r62" transform="translate(0 3233.7)"><g id="k62-1"><use href="#dL" x="84"/></g><g id="k62-2"><use href="#dL" x="136"/></g><g id="k62-3"><use href="#dL" x="188"/></g><g id="k62-4"><use href="#dL" x="240"/></g><g id="k62-5"><use href="#dL" x="292"/></g><g id="k62-6"><use href="#dL" x="344"/></g><g id="k62-7"><use href="#dL" x="396"/></g><g id="k62-8"><use href="#dL" x="448"/></g><g id="k62-9"><use href="#dL" x="500"/></g><g id="k62-10"><use href="#dL" x="552"/></g></g>
<g id="r63" transform="translate(0 3285.7)"><g id="k63-1"><use href="#dR" x="84"/></g><g id="k63-2"><use href="#dR" x="136"/></g><g id="k63-3"><use href="#dR" x="188"/></g><g id="k63-4"><use href="#dR" x="240"/></g><g id="k63-5"><use href="#dR" x="292"/></g><g id="k63-6"><use href="#dR" x="344"/></g><g id="k63-7"><use href="#dR" x="396"/></g><g id="k63-8"><use href="#dR" x="448"/></g><g id="k63-9"><use href="#dR" x="500"/></g><g id="k63-10"><use href="#dR" x="552"/></g></g>
<g id="r64" transform="translate(0 3337.7)"><g id="k64-1"><use href="#dL" x="84"/></g><g id="k64-2"><use href="#dL" x="136"/></g><g id="k64-3"><use href="#dL" x="188"/></g><g id="k64-4"><use href="#dL" x="240"/></g><g id="k64-5"><use href="#dL" x="292"/></g><g id="k64-6"><use href="#dL" x="344"/></g><g id="k64-7"><use href="#dL" x="396"/></g><g id="k64-8"><use href="#dL" x="448"/></g><g id="k64-9"><use href="#dL" x="500"/></g><g id="k64-10"><use href="#dL" x="552"/></g></g>
<g id="r65" transform="translate(0 3389.7)"><g id="k65-1"><use href="#dR" x="84"/></g><g id="k65-2"><use href="#dR" x="136"/></g><g id="k65-3"><use href="#dR" x="188"/></g><g id="k65-4"><use href="#dR" x="240"/></g><g id="k65-5"><use href="#dR" x="292"/></g><g id="k65-6"><use href="#dR" x="344"/></g><g id="k65-7"><use href="#dR" x="396"/></g><g id="k65-8"><use href="#dR" x="448"/></g><g id="k65-9"><use href="#dR" x="500"/></g><g id="k65-10"><use href="#dR" x="552"/></g></g>
<g id="r66" transform="translate(0 3441.7)"><g id="k66-1"><use href="#dL" x="84"/></g><g id="k66-2"><use href="#dL" x="136"/></g><g id="k66-3"><use href="#dL" x="188"/></g><g id="k66-4"><use href="#dL" x="240"/></g><g id="k66-5"><use href="#dL" x="292"/></g><g id="k66-6"><use href="#dL" x="344"/></g><g id="k66-7"><use href="#dL" x="396"/></g><g id="k66-8"><use href="#dL" x="448"/></g><g id="k66-9"><use href="#dL" x="500"/></g><g id="k66-10"><use href="#dL" x="552"/></g></g>
<g id="r67" transform="translate(0 3493.7)"><g id="k67-1"><use href="#dR" x="84"/></g><g id="k67-2"><use href="#dR" x="136"/></g><g id="k67-3"><use href="#dR" x="188"/></g><g id="k67-4"><use href="#dR" x="240"/></g><g id="k67-5"><use href="#dR" x="292"/></g><g id="k67-6"><use href="#dR" x="344"/></g><g id="k67-7"><use href="#dR" x="396"/></g><g id="k67-8"><use href="#dR" x="448"/></g><g id="k67-9"><use href="#dR" x="500"/></g><g id="k67-10"><use href="#dR" x="552"/></g></g>
<g id="r68" transform="translate(0 3545.7)"><g id="k68-1"><use href="#dL" x="84"/></g><g id="k68-2"><use href="#dL" x="136"/></g><g id="k68-3"><use href="#dL" x="188"/></g><g id="k68-4"><use href="#dL" x="240"/></g><g id="k68-5"><use href="#dL" x="292"/></g><g id="k68-6"><use href="#dL" x="344"/></g><g id="k68-7"><use href="#dL" x="396"/></g><g id="k68-8"><use href="#dL" x="448"/></g><g id="k68-9"><use href="#dL" x="500"/></g><g id="k68-10"><use href="#dL" x="552"/></g></g>
<g id="r69" transform="translate(0 3597.7)"><g id="k69-1"><use href="#dR" x="84"/></g><g id="k69-2"><use href="#dR" x="136"/></g><g id="k69-3"><use href="#dR" x="188"/></g><g id="k69-4"><use href="#dR" x="240"/></g><g id="k69-5"><use href="#dR" x="292"/></g><g id="k69-6"><use href="#dR" x="344"/></g><g id="k69-7"><use href="#dR" x="396"/></g><g id="k69-8"><use href="#dR" x="448"/></g><g id="k69-9"><use href="#dR" x="500"/></g><g id="k69-10"><use href="#dR" x="552"/></g></g>
</g>
<text class="wm" x="318" y="1861">BRACELETBOOK.COM</text>
</svg>
